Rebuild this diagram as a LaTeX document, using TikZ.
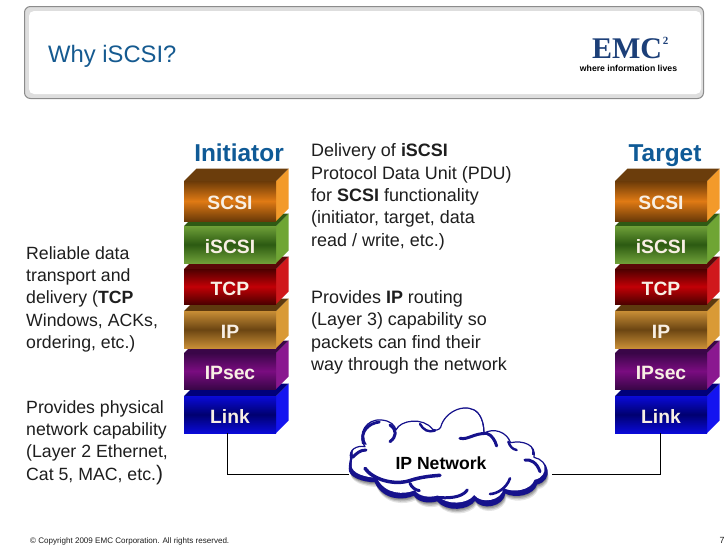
\documentclass[tikz,border=0pt]{standalone}
\usepackage{fontspec}
\setmainfont{Liberation Sans}
\newfontfamily\logoserif{Liberation Serif}
\definecolor{titleblue}{HTML}{155A90}
\definecolor{headblue}{HTML}{0F5A96}
\definecolor{bodytext}{HTML}{1E1E1E}
\definecolor{cloudblue}{HTML}{16128C}
\definecolor{logoblue}{HTML}{1C3F78}
\definecolor{scsiE}{HTML}{6A3A08}\definecolor{scsiM}{HTML}{E07A14}\definecolor{scsiS}{HTML}{F39A2A}\definecolor{scsiT}{HTML}{6B3D0C}
\definecolor{iscsiE}{HTML}{6FA038}\definecolor{iscsiM}{HTML}{2C5A12}\definecolor{iscsiS}{HTML}{6FA534}\definecolor{iscsiT}{HTML}{2F5A14}
\definecolor{tcpE}{HTML}{4E0000}\definecolor{tcpM}{HTML}{C20006}\definecolor{tcpS}{HTML}{D0181C}\definecolor{tcpT}{HTML}{5A0808}
\definecolor{ipE}{HTML}{C88E36}\definecolor{ipM}{HTML}{6B4512}\definecolor{ipS}{HTML}{D99A36}\definecolor{ipT}{HTML}{5E3A0E}
\definecolor{secE}{HTML}{3A0648}\definecolor{secM}{HTML}{7A0C80}\definecolor{secS}{HTML}{8A1890}\definecolor{secT}{HTML}{3A0648}
\definecolor{linkE}{HTML}{0A0AD8}\definecolor{linkM}{HTML}{000070}\definecolor{linkS}{HTML}{1414F0}\definecolor{linkT}{HTML}{00007A}
\definecolor{layertext}{HTML}{F8EFE4}
\tikzset{
  bodylabel/.style={anchor=north west,inner sep=0pt,align=left,text=bodytext,font=\fontsize{17.7}{22.4}\selectfont},
  headlabel/.style={anchor=base,inner sep=0pt,text=headblue,font=\fontsize{24.4}{26}\selectfont\bfseries},
  wire/.style={draw=black,line width=0.8pt},
  hook/.style={draw=cloudblue,line cap=round,line join=round},
}
% name, left x, top y, bottom y, label, colour prefix
\newcommand\stacklayer[6]{%
  \pgfmathsetmacro\lr{#2+92}\pgfmathsetmacro\lrr{\lr+12.5}\pgfmathsetmacro\lxx{#2+12.5}%
  \pgfmathsetmacro\ltt{#3-12.5}\pgfmathsetmacro\lbb{#4-12.5}%
  \pgfmathsetmacro\lxc{#2+46}\pgfmathsetmacro\lyc{(#3+#4)/2}\pgfmathsetmacro\lh{#4-#3}%
  \fill[#6S] (\lr,#3) -- (\lrr,\ltt) -- (\lrr,\lbb) -- (\lr,#4) -- cycle;
  \fill[#6T] (#2,#3) -- (\lxx,\ltt) -- (\lrr,\ltt) -- (\lr,#3) -- cycle;
  \node[minimum width=92pt,minimum height=\lh pt,inner sep=0pt,top color=#6E,bottom color=#6E,middle color=#6M,text=layertext,font=\fontsize{19.3}{20}\selectfont\bfseries] (#1) at (\lxc,\lyc) {\raisebox{-2pt}[\height][\depth]{#5}};
}
\newcommand\fullstack[2]{%
  \stacklayer{#1link}{#2}{396}{433}{Link}{link}
  \stacklayer{#1ipsec}{#2}{353}{389}{IPsec}{sec}
  \stacklayer{#1ip}{#2}{311}{348}{IP}{ip}
  \stacklayer{#1tcp}{#2}{269}{304}{TCP}{tcp}
  \stacklayer{#1iscsi}{#2}{226}{263}{iSCSI}{iscsi}
  \stacklayer{#1scsi}{#2}{181}{221}{SCSI}{scsi}
}
\newcommand\cloudpath{(32,175) .. controls (25,150) and (50,135) .. (75,140)
 .. controls (50,100) and (80,55) .. (125,60)
 .. controls (150,62) and (165,75) .. (168,90)
 .. controls (180,60) and (250,50) .. (278,88)
 .. controls (285,92) and (295,92) .. (302,82)
 .. controls (315,30) and (385,5) .. (415,40)
 .. controls (430,60) and (432,80) .. (432,100)
 .. controls (460,82) and (500,95) .. (512,128)
 .. controls (550,120) and (590,135) .. (582,172)
 .. controls (625,180) and (640,240) .. (590,252)
 .. controls (580,285) and (525,295) .. (495,278)
 .. controls (490,320) and (425,330) .. (405,300)
 .. controls (385,330) and (320,335) .. (292,302)
 .. controls (265,310) and (235,305) .. (222,285)
 .. controls (190,300) and (130,300) .. (105,245)
 .. controls (70,245) and (25,230) .. (28,205)
 .. controls (28,195) and (30,185) .. cycle}
\begin{document}
\begin{tikzpicture}[x=1pt,y=-1pt]
\useasboundingbox (0,0) rectangle (728,546);
\fill[white] (0,0) rectangle (728,546);
% header frame
\draw[draw=black!45,fill=black!13,line width=1pt,rounded corners=6pt] (24.5,6.5) rectangle (703.5,98.5);
\fill[white,rounded corners=5pt] (29,11) rectangle (701,94);
\node[anchor=base west,inner sep=0pt,text=titleblue,font=\fontsize{23.8}{26}\selectfont] (title) at (48,62) {Why iSCSI?};
% logo
\node[anchor=base,inner sep=0pt,text=logoblue,font=\logoserif\bfseries\fontsize{30}{30}\selectfont] (emc) at (627,58) {EMC};
\node[anchor=base,inner sep=0pt,text=logoblue,font=\logoserif\bfseries\fontsize{11}{11}\selectfont] (emctwo) at (665.5,44) {2};
\node[anchor=base,inner sep=0pt,text=black,font=\fontsize{8.7}{9}\selectfont\bfseries] (tagline) at (628.5,71) {where information lives};
% stacks
\fullstack{i}{184}
\fullstack{t}{615}
\node[headlabel] (initiator) at (239,161) {Initiator};
\node[headlabel] (target) at (665,161) {Target};
% text
\node[bodylabel,font=\fontsize{17.95}{22.4}\selectfont] (delivery) at (311,143.5) {Delivery of \textbf{iSCSI}\\Protocol Data Unit (PDU)\\for \textbf{SCSI} functionality\\(initiator, target, data\\read / write, etc.)};
\node[bodylabel,font=\fontsize{17.95}{22.4}\selectfont] (routing) at (311,290) {Provides \textbf{IP} routing\\(Layer 3) capability so\\packets can find their\\way through the network};
\node[bodylabel] (reliable) at (26,246) {Reliable data\\transport and\\delivery (\textbf{TCP}\\Windows, ACKs,\\ordering, etc.)};
\node[bodylabel] (physical) at (26,400) {Provides physical\\network capability\\(Layer 2 Ethernet,\\Cat 5, MAC, etc.{\fontsize{21}{22}\selectfont)}};
% cloud
\begin{scope}[shift={(340,400)},x=0.3333pt,y=-0.3333pt]
  \foreach \off/\op in {4/0.18,8/0.18,12/0.14,16/0.1}{
    \fill[black,opacity=\op,shift={(\off*0.1pt,-\off*0.33pt)}] \cloudpath;
  }
  \fill[cloudblue] \cloudpath;
  \begin{scope}[shift={(320,168)},xscale=0.975,yscale=0.94,shift={(-320,-176)}]
    \fill[white] \cloudpath;
  \end{scope}
  \draw[hook,line width=1.2pt] \cloudpath;
  \draw[hook,line width=2.8pt] (70,130) .. controls (60,95) and (85,70) .. (118,66);
  \draw[hook,line width=3pt] (150,75) .. controls (172,90) and (170,110) .. (150,125);
  \draw[hook,line width=2.4pt] (240,72) .. controls (250,90) and (265,98) .. (285,92);
  \draw[hook,line width=3pt] (360,115) .. controls (385,120) and (400,100) .. (440,100) .. controls (455,105) and (465,120) .. (470,138);
  \draw[hook,line width=2.4pt] (505,125) .. controls (510,140) and (518,148) .. (530,150);
  \draw[hook,line width=3pt] (555,180) .. controls (570,178) and (590,185) .. (600,215);
  \draw[hook,line width=3pt] (38,172) .. controls (50,160) and (60,150) .. (78,150);
  \draw[hook,line width=3.5pt] (75,205) .. controls (95,235) and (160,260) .. (215,240) .. controls (240,232) and (270,228) .. (300,226);
  \draw[hook,line width=3pt] (210,250) .. controls (215,262) and (225,270) .. (238,272);
  \draw[hook,line width=3pt] (290,292) .. controls (320,295) and (365,295) .. (382,270);
  \draw[hook,line width=2.6pt] (450,282) .. controls (470,282) and (500,265) .. (510,235);
  \node[inner sep=0pt,font=\fontsize{17.6}{18}\selectfont\bfseries,text=black] (cloud) at (303,190) {IP Network};
  \coordinate (cloudleft) at (27,222);
  \coordinate (cloudright) at (637,222);
\end{scope}
% connectors
\draw[wire] ([xshift=-2.5pt]ilink.south) |- (cloudleft);
\draw[wire] ([xshift=-1pt]tlink.south) |- (cloudright);
% footer
\node[anchor=base west,inner sep=0pt,text=bodytext,font=\fontsize{8.05}{10}\selectfont] (copyright) at (30,543.5) {© Copyright 2009 EMC Corporation. All rights reserved.};
\node[anchor=base,inner sep=0pt,text=bodytext,font=\fontsize{8.9}{10}\selectfont] (pagenum) at (722,543.5) {7};
\end{tikzpicture}
\end{document}
